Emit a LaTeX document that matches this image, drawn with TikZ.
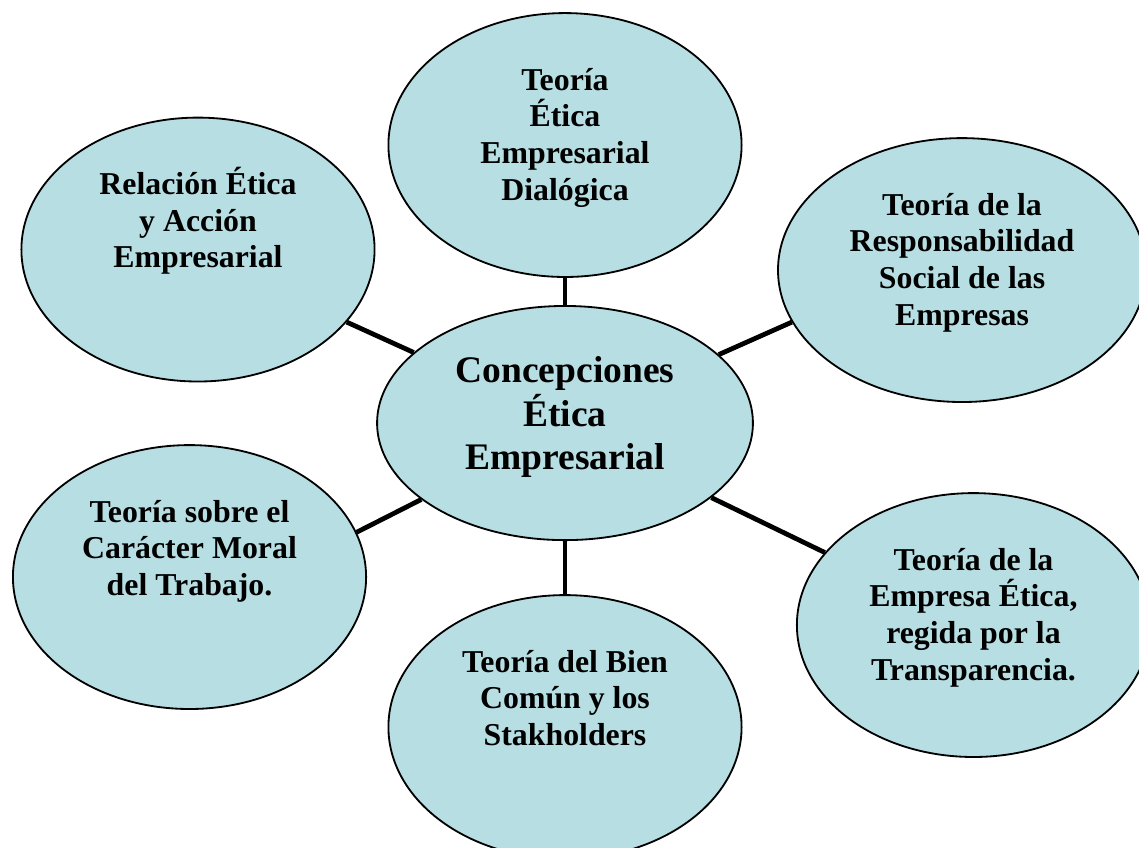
\documentclass[tikz,border=0pt]{standalone}
\usepackage{fontspec}
\setmainfont{Liberation Serif}
\usetikzlibrary{shapes.geometric}

\definecolor{celeste}{RGB}{183,222,226}

% text block hung from a fixed first baseline
\newcommand{\ovaltext}[2][78.4pt]{\parbox[c][#1][t]{3.7cm}{\centering\rule{0pt}{15pt}#2}}

\tikzset{
  teoria/.style={ellipse, draw, line width=0.8pt, fill=celeste, inner sep=0pt,
    minimum width=5.46cm, minimum height=4.08cm,
    font=\fontsize{14pt}{16.15pt}\selectfont\bfseries},
  concepto/.style={teoria, minimum width=5.81cm, minimum height=3.62cm,
    font=\fontsize{16.5pt}{19.1pt}\selectfont\bfseries},
  enlace/.style={line width=2.1pt}
}

\begin{document}
\begin{tikzpicture}
            \useasboundingbox (-8.735,-6.555) rectangle (8.874,6.540);

            \node [concepto] (centro) at (0,0) {\ovaltext[65.4pt]{Concepciones\\Ética\\Empresarial}};

            \node [teoria] (dialogica) at (0,4.298) {\ovaltext{Teoría\\Ética\\Empresarial\\Dialógica}}; % top
            \node [teoria] (relacion) at (-5.674,2.682) {\ovaltext{Relación Ética\\y Acción\\Empresarial}}; % top left
            \node [teoria, minimum width=5.69cm] (responsabilidad) at (6.138,2.365) {\ovaltext{Teoría de la\\Responsabilidad\\Social de las\\Empresas}}; % top right
            \node [teoria] (caracter) at (-5.805,-2.381) {\ovaltext{Teoría sobre el\\Carácter Moral\\del Trabajo.}}; % bottom left
            \node [teoria] (biencomun) at (0,-4.700) {\ovaltext{Teoría del Bien\\Común y los\\Stakholders}}; % bottom
            \node [teoria] (transparencia) at (6.315,-3.123) {\ovaltext{Teoría de la\\Empresa Ética,\\regida por la\\Transparencia.}}; % bottom right

            \draw [enlace] (centro.90) -- (dialogica.270);
            \draw [enlace] (centro.155) -- (relacion.334);
            \draw [enlace] (centro.24) -- (responsabilidad.197);
            \draw [enlace] (centro.208) -- (caracter.15);
            \draw [enlace] (centro.270) -- (biencomun.90);
            \draw [enlace] (centro.333) -- (transparencia.154);
\end{tikzpicture}
\end{document}
